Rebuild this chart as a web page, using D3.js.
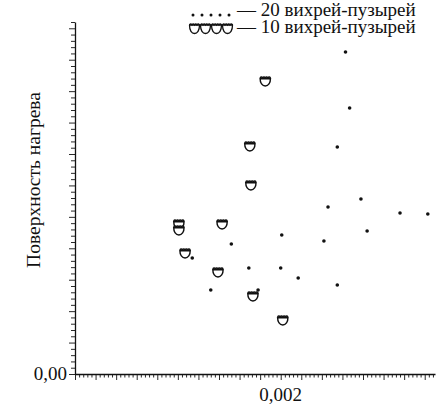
<!DOCTYPE html>
<html>
<head>
<meta charset="utf-8">
<script src="https://cdn.jsdelivr.net/npm/d3@7"></script>
<style>
  body { margin: 0; background: #fff; }
  svg { display: block; }
  text { font-family: "Liberation Serif", "Times New Roman", serif; fill: #111; }
</style>
</head>
<body>
<svg id="chart" width="437" height="408"></svg>
<script>
// 10 vortex-bubbles: horizontal value and heating-surface value
const bubbles10X = [0.00101, 0.00101, 0.00107, 0.00143, 0.00139, 0.00170, 0.00171, 0.00185, 0.00173, 0.00202];
const bubbles10Y = [0.2386, 0.2291, 0.1925, 0.2386, 0.1623, 0.3627, 0.3007, 0.4661, 0.1241, 0.0859];

// 20 vortex-bubbles
const bubbles20X = [0.00114, 0.00132, 0.00152, 0.00169, 0.00178, 0.00200, 0.00201, 0.00217, 0.00242, 0.00246,
                    0.00255, 0.00255, 0.00263, 0.00267, 0.00278, 0.00284, 0.00316, 0.00343];
const bubbles20Y = [0.1845, 0.1336, 0.2068, 0.1686, 0.1336, 0.1686, 0.2211, 0.1527, 0.2116, 0.2657,
                    0.3611, 0.1416, 0.5123, 0.4232, 0.2784, 0.2275, 0.2561, 0.2545];

const seriesLabels = ["— 20 вихрей-пузырей", "— 10 вихрей-пузырей"];
const yAxisTitle = "Поверхность нагрева";
const xTickLabels = [{ v: 0.002, t: "0,002" }];
const yTickLabels = [{ v: 0, t: "0,00" }];

const svg = d3.select("#chart");
const x = d3.scaleLinear().domain([0, 0.0035]).range([75, 435]);
const y = d3.scaleLinear().domain([0, 0.56]).range([374, 22]);

const ink = "#111";

// x axis: fine minor ticks, longer every fifth
const xMinor = d3.range(0, 0.0035 + 1e-9, 0.00004);
const xAx = svg.append("g").attr("transform", `translate(0,${y(0)})`)
  .call(d3.axisBottom(x).tickValues(xMinor).tickSizeOuter(0).tickFormat(""));
xAx.select(".domain").attr("stroke", ink).attr("stroke-width", 1.3);
xAx.selectAll(".tick line").attr("stroke", ink).attr("stroke-width", 0.9)
  .attr("y2", (d, i) => i % 5 === 0 ? 6 : 3.5);

// y axis: ticks to the left, longer every fifth
const yMinor = d3.range(0, 0.56 + 1e-9, 0.01);
const yAx = svg.append("g").attr("transform", `translate(${x(0)},0)`)
  .call(d3.axisLeft(y).tickValues(yMinor).tickSizeOuter(0).tickFormat(""));
yAx.select(".domain").attr("stroke", ink).attr("stroke-width", 1.3);
yAx.selectAll(".tick line").attr("stroke", ink).attr("stroke-width", 0.9)
  .attr("x2", (d, i) => i % 5 === 0 ? -6 : -4);

// tick labels
svg.selectAll(".xlab").data(xTickLabels).join("text")
  .attr("x", d => x(d.v)).attr("y", 401).attr("text-anchor", "middle")
  .attr("font-size", 19).text(d => d.t);
svg.selectAll(".ylab").data(yTickLabels).join("text")
  .attr("x", 67).attr("y", d => y(d.v) + 6).attr("text-anchor", "end")
  .attr("font-size", 19).text(d => d.t);

// axis title
svg.append("text")
  .attr("transform", `translate(40,${(y(0) + y(0.56)) / 2 - 18}) rotate(-90)`)
  .attr("text-anchor", "middle").attr("font-size", 19.5).text(yAxisTitle);

// cup-shaped marker with a scalloped rim
const cupPath = "M-5.2,-3 C-5.2,2 -2.9,5 0,5 C2.9,5 5.2,2 5.2,-3" +
  " M-5.2,-3 q1.3,-2.2 2.6,0 q1.3,-2.2 2.6,0 q1.3,-2.2 2.6,0 q1.3,-2.2 2.6,0" +
  " M-5.2,-2.2 L5.2,-2.2";

const d10 = bubbles10X.map((v, i) => ({ x: v, y: bubbles10Y[i] }));
const d20 = bubbles20X.map((v, i) => ({ x: v, y: bubbles20Y[i] }));

svg.append("g").selectAll("path").data(d10).join("path")
  .attr("transform", d => `translate(${x(d.x)},${y(d.y)})`)
  .attr("d", cupPath).attr("fill", "#fff").attr("stroke", ink).attr("stroke-width", 1.5);

svg.append("g").selectAll("circle").data(d20).join("circle")
  .attr("cx", d => x(d.x)).attr("cy", d => y(d.y)).attr("r", 1.8).attr("fill", ink);

// legend
const lg = svg.append("g");
lg.selectAll("circle").data(d3.range(5)).join("circle")
  .attr("cx", i => 193 + i * 9).attr("cy", 15).attr("r", 1.5).attr("fill", ink);
lg.append("line").attr("x1", 189).attr("x2", 233).attr("y1", 25).attr("y2", 25)
  .attr("stroke", ink).attr("stroke-width", 1.4);
lg.selectAll("path").data(d3.range(4)).join("path")
  .attr("transform", i => `translate(${194.5 + i * 11},29)`)
  .attr("d", "M-5,-4 C-5,1.5 -2.8,4.5 0,4.5 C2.8,4.5 5,1.5 5,-4 q-1.25,-2 -2.5,0 q-1.25,-2 -2.5,0 q-1.25,-2 -2.5,0 q-1.25,-2 -2.5,0")
  .attr("fill", "none").attr("stroke", ink).attr("stroke-width", 1.3);
lg.selectAll("text").data(seriesLabels).join("text")
  .attr("x", 237).attr("y", (d, i) => 16 + i * 17)
  .attr("font-size", 19).text(d => d);
</script>
</body>
</html>
